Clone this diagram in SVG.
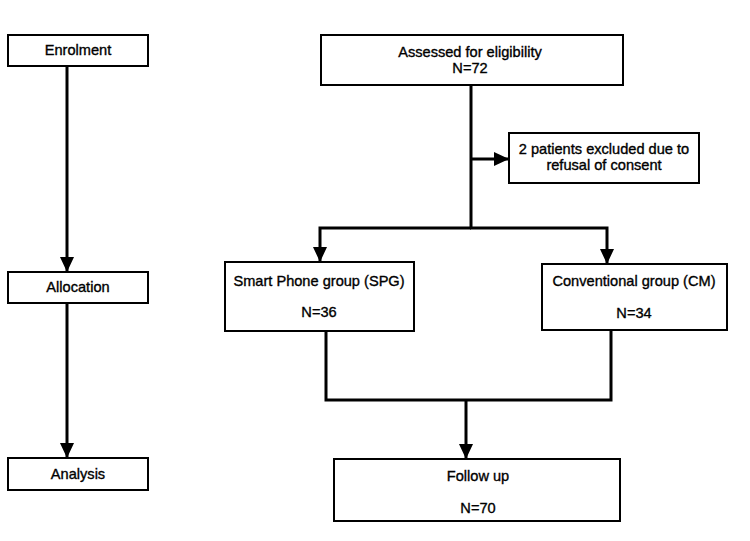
<svg xmlns="http://www.w3.org/2000/svg" width="750" height="541" viewBox="0 0 750 541">
<defs>
<style>
.box{fill:#fff;stroke:#000;stroke-width:2}
.t{font-family:"Liberation Sans",Arial,sans-serif;font-size:14.6px;fill:#000;stroke:#000;stroke-width:0.35;text-anchor:middle}
.c{fill:none;stroke:#000;stroke-width:3}
</style>
<marker id="ah" markerUnits="userSpaceOnUse" markerWidth="16" markerHeight="16" viewBox="0 0 16 16" refX="15" refY="8" orient="auto">
<path d="M0,1 L15,8 L0,15 Z" fill="#000"/>
</marker>
</defs>
<rect width="750" height="541" fill="#fff"/>
<g id="connectors">
<line class="c" x1="67" y1="66" x2="67" y2="272" marker-end="url(#ah)"/>
<line class="c" x1="67" y1="303" x2="67" y2="458" marker-end="url(#ah)"/>
<line class="c" x1="471" y1="85" x2="471" y2="228"/>
<line class="c" x1="471" y1="159" x2="509" y2="159" marker-end="url(#ah)"/>
<path class="c" d="M471,228 H320 V262" marker-end="url(#ah)"/>
<path class="c" d="M470,228 H607 V264" marker-end="url(#ah)"/>
<path class="c" d="M326,331 V400 H611 V330"/>
<line class="c" x1="466" y1="400" x2="466" y2="459" marker-end="url(#ah)"/>
</g>
<g id="enrolment"><rect class="box" x="8" y="35" width="140" height="31"/><text class="t" x="78" y="55">Enrolment</text></g>
<g id="allocation"><rect class="box" x="8" y="272" width="140" height="31"/><text class="t" x="78" y="292">Allocation</text></g>
<g id="analysis"><rect class="box" x="8" y="458" width="140" height="32"/><text class="t" x="78" y="479">Analysis</text></g>
<g id="assessed"><rect class="box" x="321" y="35" width="302" height="50"/><text class="t" x="470" y="57">Assessed for eligibility</text><text class="t" x="470" y="73">N=72</text></g>
<g id="excluded"><rect class="box" x="509" y="133" width="190" height="50"/><text class="t" x="604" y="154">2 patients excluded due to</text><text class="t" x="604" y="170">refusal of consent</text></g>
<g id="spg"><rect class="box" x="225" y="262" width="189" height="69"/><text class="t" x="319" y="286">Smart Phone group (SPG)</text><text class="t" x="319" y="317">N=36</text></g>
<g id="cm"><rect class="box" x="542" y="264" width="185" height="66"/><text class="t" x="634" y="286">Conventional group (CM)</text><text class="t" x="634" y="318">N=34</text></g>
<g id="followup"><rect class="box" x="334" y="459" width="286" height="62"/><text class="t" x="478" y="481">Follow up</text><text class="t" x="478" y="513">N=70</text></g>
</svg>
